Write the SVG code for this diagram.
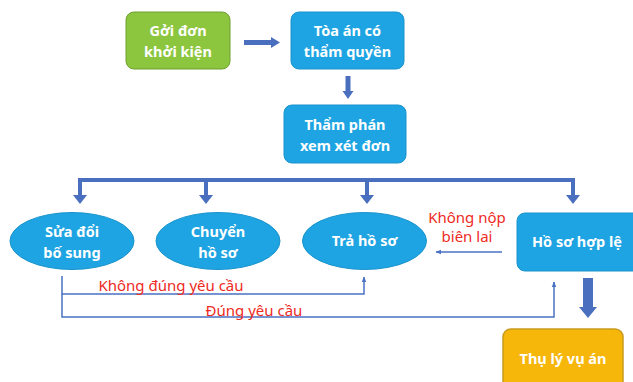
<svg xmlns="http://www.w3.org/2000/svg" width="633" height="382" viewBox="0 0 633 382">
<defs>
<style>
.box{fill:#1ea4e2;stroke:#1a93cc;stroke-width:1}
.green{fill:#8cc63f;stroke:#6f9f30;stroke-width:1}
.orange{fill:#f6b60a;stroke:#c99a1c;stroke-width:1.5}
.lbl{font-family:"Noto Sans","Open Sans","DejaVu Sans",sans-serif;font-size:14.5px;font-weight:bold;fill:#ffffff;text-anchor:middle}
.red{font-family:"Noto Sans","Open Sans","DejaVu Sans",sans-serif;font-size:15px;fill:#ee2a24;text-anchor:middle}
.thin{stroke:#4a72c4;stroke-width:1.5;fill:none}
</style>
<marker id="ahs" viewBox="0 0 10 10" refX="9" refY="5" markerWidth="6" markerHeight="6" orient="auto" markerUnits="userSpaceOnUse">
<path d="M0,1 L10,5 L0,9 z" fill="#4a72c4"/>
</marker>
</defs>
<rect width="633" height="382" fill="#ffffff"/>

<g id="connectors">
<line x1="244" y1="42.5" x2="272" y2="42.5" stroke="#4a6fbf" stroke-width="5"/>
<path d="M271,37 L280,42.5 L271,48 z" fill="#4a6fbf"/>
<line x1="348" y1="76" x2="348" y2="92" stroke="#4a6fbf" stroke-width="5"/>
<path d="M342.5,91 L348,99 L353.5,91 z" fill="#4a6fbf"/>
<path d="M80,196 L80,180 L573,180 L573,196" stroke="#4a6fbf" stroke-width="4" fill="none"/>
<line x1="206" y1="180" x2="206" y2="196" stroke="#4a6fbf" stroke-width="4"/>
<line x1="367" y1="180" x2="367" y2="196" stroke="#4a6fbf" stroke-width="4"/>
<path d="M73,195 L80,204 L87,195 z" fill="#4a6fbf"/>
<path d="M199,195 L206,204 L213,195 z" fill="#4a6fbf"/>
<path d="M360,195 L367,204 L374,195 z" fill="#4a6fbf"/>
<path d="M566,195 L573,204 L580,195 z" fill="#4a6fbf"/>
<line x1="502" y1="252" x2="436" y2="252" class="thin" marker-end="url(#ahs)"/>
<path d="M62,276 L62,294 L364,294 L364,277" class="thin" marker-end="url(#ahs)"/>
<path d="M62,294 L62,317 L554,317 L554,282" class="thin" marker-end="url(#ahs)"/>
<rect x="583" y="278" width="10" height="31" fill="#4a6fbf"/>
<path d="M579,307 L588,318 L597,307 z" fill="#4a6fbf"/>
<text class="red" x="467" y="223">Không nộp</text>
<text class="red" x="467" y="242">biên lai</text>
<text class="red" x="171" y="291">Không đúng yêu cầu</text>
<text class="red" x="254" y="316">Đúng yêu cầu</text>
</g>

<g id="node-goi-don">
<rect class="green" x="126" y="12" width="104" height="57" rx="8"/>
<text class="lbl" x="178" y="36">Gởi đơn</text>
<text class="lbl" x="178" y="57">khởi kiện</text>
</g>
<g id="node-toa-an">
<rect class="box" x="291" y="12" width="113" height="57" rx="8"/>
<text class="lbl" x="347.5" y="36">Tòa án có</text>
<text class="lbl" x="347.5" y="57">thẩm quyền</text>
</g>
<g id="node-tham-phan">
<rect class="box" x="284" y="105" width="122" height="58" rx="8"/>
<text class="lbl" x="345" y="130">Thẩm phán</text>
<text class="lbl" x="345" y="151">xem xét đơn</text>
</g>
<g id="node-sua-doi">
<ellipse class="box" cx="72" cy="241" rx="62" ry="28.5"/>
<text class="lbl" x="72" y="237">Sửa đổi</text>
<text class="lbl" x="72" y="258">bố sung</text>
</g>
<g id="node-chuyen">
<ellipse class="box" cx="218" cy="241" rx="62" ry="28.5"/>
<text class="lbl" x="218" y="237">Chuyển</text>
<text class="lbl" x="218" y="258">hồ sơ</text>
</g>
<g id="node-tra">
<ellipse class="box" cx="364.5" cy="241" rx="62" ry="28.5"/>
<text class="lbl" x="364.5" y="246">Trả hồ sơ</text>
</g>
<g id="node-hop-le">
<rect class="box" x="517" y="213" width="124" height="58" rx="8"/>
<text class="lbl" x="577" y="247">Hồ sơ hợp lệ</text>
</g>
<g id="node-thu-ly">
<rect class="orange" x="503" y="329" width="120" height="62" rx="8"/>
<text class="lbl" x="563" y="364">Thụ lý vụ án</text>
</g>
</svg>
